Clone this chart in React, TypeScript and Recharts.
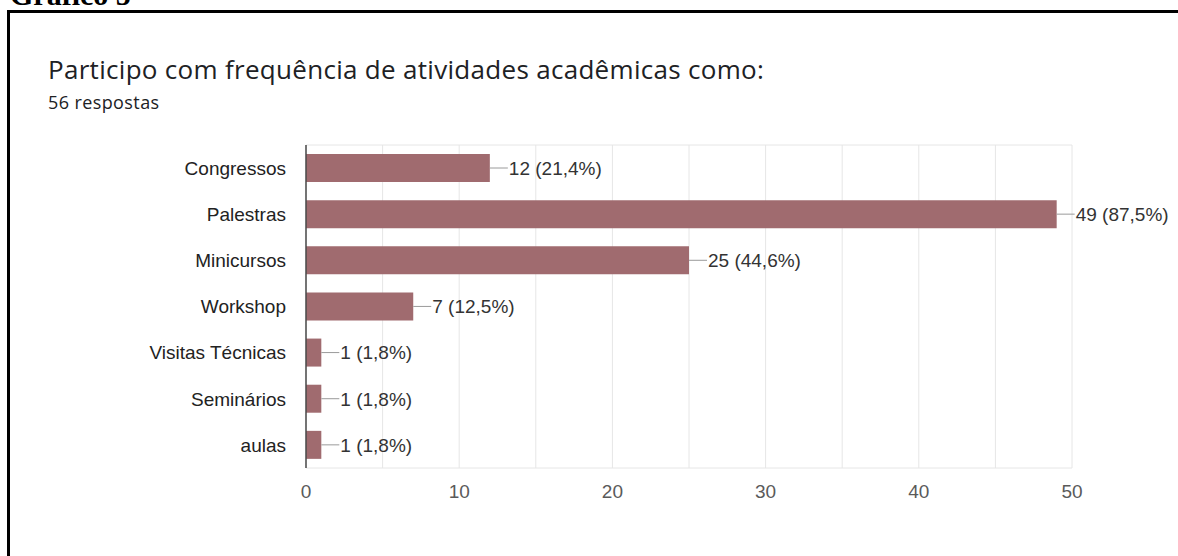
import { Bar, BarChart, CartesianGrid, LabelList, XAxis, YAxis } from "recharts";

const categories = ["Congressos", "Palestras", "Minicursos", "Workshop", "Visitas Técnicas", "Seminários", "aulas"];
const counts = [12, 49, 25, 7, 1, 1, 1];
const totalResponses = 56;
const xTicks = [0, 5, 10, 15, 20, 25, 30, 35, 40, 45, 50];

const BAR = "#a06b6f";
const W = 1178;
const H = 556;

const data = categories.map((name, i) => ({
  name,
  value: counts[i],
  label: `${counts[i]} (${((counts[i] / totalResponses) * 100).toFixed(1).replace(".", ",")}%)`,
}));

// leader line + "n (x%)" text to the right of each bar
function ValueLabel(props: any) {
  const { x, y, width, height, index } = props;
  const ex = Number(x) + Number(width);
  const cy = Number(y) + Number(height) / 2;
  return (
    <g>
      <line x1={ex} x2={ex + 18} y1={cy} y2={cy} stroke="#9a9a9a" strokeWidth={1} />
      <text x={ex + 19} y={cy} dy="0.36em" fontSize={19} fill="#333" fontFamily="'Liberation Sans', Arial, sans-serif">
        {data[index].label}
      </text>
    </g>
  );
}

export default function App() {
  return (
    <div style={{ position: "absolute", left: 0, top: 0, width: W, height: H, overflow: "hidden", background: "#fff" }}>
      <div
        style={{
          position: "absolute",
          left: 7,
          top: 10,
          width: W + 20,
          height: H + 20,
          border: "3px solid #000",
          boxSizing: "border-box",
        }}
      />
      <svg width={W} height={H} style={{ position: "absolute", left: 0, top: 0 }}>
        <text x={10} y={5} fontSize={30} fontWeight="bold" fontFamily="'Liberation Serif', 'Times New Roman', serif" fill="#000">
          Gráfico 5
        </text>
        <text x={48} y={79} fontSize={26} fontFamily="'Open Sans', Roboto, sans-serif" fill="#202124" letterSpacing={0.3}>
          Participo com frequência de atividades acadêmicas como:
        </text>
        <text x={48} y={109} fontSize={18} fontFamily="'Open Sans', Roboto, sans-serif" fill="#202124" letterSpacing={0.4}>
          56 respostas
        </text>
      </svg>
      <div style={{ position: "absolute", left: 0, top: 0 }}>
        <BarChart
          width={W}
          height={H}
          data={data}
          layout="vertical"
          margin={{ top: 145, right: 106, bottom: 58, left: 0 }}
          barSize={28}
        >
          <CartesianGrid
            stroke="#e6e6e6"
            horizontalCoordinatesGenerator={({ offset }: any) => [offset.top, offset.top + offset.height]}
          />
          <XAxis
            type="number"
            domain={[0, 50]}
            ticks={xTicks}
            interval={0}
            height={30}
            tickFormatter={(v) => (v % 10 === 0 ? String(v) : "")}
            tickLine={false}
            axisLine={false}
            tickSize={0}
            tickMargin={17}
            tick={{ fontSize: 19, fill: "#5a5a5a", fontFamily: "'Liberation Sans', Arial, sans-serif" }}
          />
          <YAxis
            type="category"
            dataKey="name"
            width={306}
            tickLine={false}
            tickSize={0}
            tickMargin={20}
            axisLine={{ stroke: "#4a4a4a", strokeWidth: 1.5 }}
            tick={{ fontSize: 19, fill: "#222", fontFamily: "'Liberation Sans', Arial, sans-serif" }}
          />
          <Bar dataKey="value" fill={BAR} isAnimationActive={false}>
            <LabelList dataKey="value" content={ValueLabel} />
          </Bar>
        </BarChart>
      </div>
    </div>
  );
}
